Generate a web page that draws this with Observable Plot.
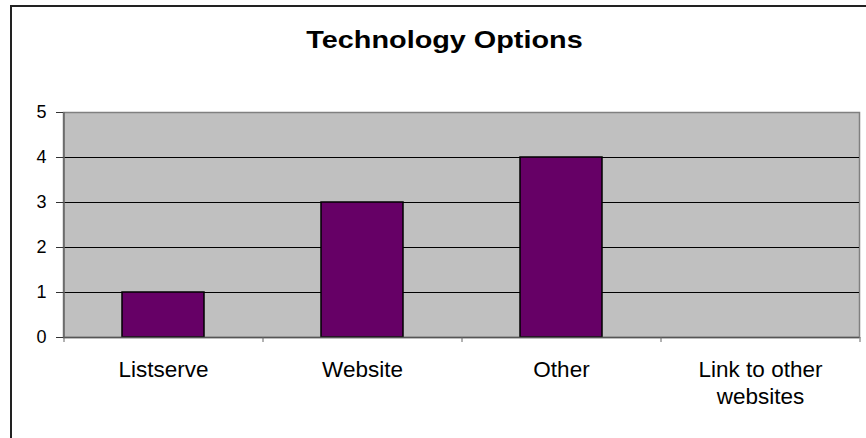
<!DOCTYPE html>
<html>
<head>
<meta charset="utf-8">
<script src="https://cdn.jsdelivr.net/npm/d3@7"></script>
<script src="https://cdn.jsdelivr.net/npm/@observablehq/plot@0.6"></script>
<style>
  html, body { margin: 0; padding: 0; background: #fff; }
  #wrap { position: relative; width: 866px; height: 438px; overflow: hidden; }
  #border { position: absolute; left: 10px; top: 5px; width: 900px; height: 500px; border: 2px solid #222; box-sizing: border-box; }
  #chart { position: absolute; left: 0; top: 0; }
</style>
</head>
<body>
<div id="wrap"><div id="border"></div><div id="chart"></div></div>
<script>
const title = "Technology Options";
const categories = ["Listserve", "Website", "Other", "Link to other websites"];
const values = [1, 3, 4, 0];
const categoryLabels = ["Listserve", "Website", "Other", "Link to other\nwebsites"];
const yTicks = [0, 1, 2, 3, 4, 5];
const gridValues = [1, 2, 3, 4];

const data = categories.map((c, i) => ({category: c, value: values[i]}));
const W = 866, H = 438, mL = 63, mR = 7, mT = 112, mB = 101;
const step = (W - mL - mR) / categories.length;
const font = "'Liberation Sans', Arial, sans-serif";

const plot = Plot.plot({
  width: W, height: H,
  marginLeft: mL, marginRight: mR, marginTop: mT, marginBottom: mB,
  style: {fontFamily: font, fontSize: "18px", color: "#000", background: "transparent"},
  x: {domain: categories, paddingInner: 0.59, paddingOuter: 0.295, axis: null},
  y: {domain: [0, 5], axis: null},
  marks: [
    Plot.frame({fill: "#c0c0c0", stroke: "#808080", strokeWidth: 1.5}),
    Plot.ruleY(gridValues, {stroke: "#000", strokeWidth: 1}),
    Plot.barY(data, {x: "category", y: "value", fill: "#660066", stroke: "#000", strokeWidth: 1.5}),
    Plot.ruleY([0], {stroke: "#555", strokeWidth: 1.5}),
    Plot.ruleX([0], {x: () => categories[0], dx: -step / 2, y1: 0, y2: 5, stroke: "#666", strokeWidth: 1.5}),
    Plot.axisY({ticks: yTicks, tickSize: 7, tickPadding: 10, stroke: "#333", tickFormat: d => String(d), fontSize: 18, label: null, anchor: "left"}),
    Plot.axisX({tickSize: 5, tickFormat: null, dx: -step / 2, stroke: "#666", label: null}),
    Plot.axisX({ticks: [categories[categories.length - 1]], tickSize: 5, tickFormat: null, dx: step / 2, stroke: "#666", label: null}),
    Plot.axisX({tickSize: 0, tickPadding: 21, tickFormat: d => categoryLabels[categories.indexOf(d)], lineHeight: 1.17, fontSize: 22.5, label: null}),
    Plot.text([title], {frameAnchor: "top", dy: -65, dx: -17, lineAnchor: "bottom", fontSize: 24, fontWeight: "bold", text: d => d})
  ]
});
document.getElementById("chart").appendChild(plot);

// the reference title is rendered wider than its natural width
const titleEl = Array.from(plot.querySelectorAll("text")).find(t => t.textContent === title);
if (titleEl) {
  const len = titleEl.getComputedTextLength();
  titleEl.setAttribute("textLength", (len * 1.2).toFixed(1));
  titleEl.setAttribute("lengthAdjust", "spacingAndGlyphs");
}
</script>
</body>
</html>
